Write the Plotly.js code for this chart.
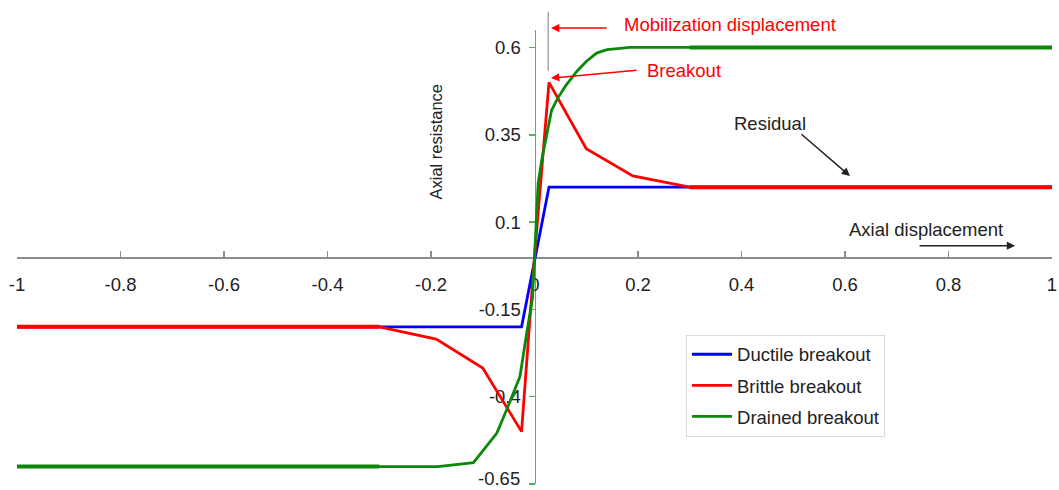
<!DOCTYPE html>
<html>
<head>
<meta charset="utf-8">
<script src="https://cdn.plot.ly/plotly-3.0.1.min.js"></script>
<style>
  html, body { margin: 0; padding: 0; background: #ffffff; }
  #chart { width: 1059px; height: 490px; }
</style>
</head>
<body>
<div id="chart"></div>
<script>
// ---- Data ----
const ductileX = [-1, -0.3, -0.025, 0.028, 0.3, 1];
const ductileY = [-0.2, -0.2, -0.2, 0.2, 0.2, 0.2];

const brittleX = [-1, -0.3, -0.19, -0.1, -0.025, 0, 0.028, 0.1, 0.19, 0.3, 1];
const brittleY = [-0.2, -0.2, -0.235, -0.318, -0.5, 0, 0.5, 0.31, 0.232, 0.2, 0.2];

const drainedX = [-1, -0.3, -0.187, -0.118, -0.073, -0.054, -0.028, -0.015, -0.004, 0,
                  0.007, 0.014, 0.024, 0.033, 0.045, 0.06, 0.082, 0.1, 0.12, 0.14, 0.185, 0.3, 1];
const drainedY = [-0.6, -0.6, -0.6, -0.589, -0.505, -0.438, -0.342, -0.217, -0.12, 0,
                  0.21, 0.278, 0.355, 0.42, 0.455, 0.49, 0.532, 0.56, 0.584, 0.594, 0.6, 0.6, 0.6];

const seriesNames = ["Ductile breakout", "Brittle breakout", "Drained breakout"];

const xTickVals = [-1, -0.8, -0.6, -0.4, -0.2, 0, 0.2, 0.4, 0.6, 0.8, 1];
const xTickText = ["-1", "-0.8", "-0.6", "-0.4", "-0.2", "0", "0.2", "0.4", "0.6", "0.8", "1"];
const yTickVals = [-0.65, -0.4, -0.15, 0.1, 0.35, 0.6];
const yTickText = ["-0.65", "-0.4", "-0.15", "0.1", "0.35", "0.6"];

// ---- Styling ----
const BLUE = "#0000ff", RED = "#ff0000", GREEN = "#0a880a";
const FONT = "Liberation Sans, Arial, sans-serif";
const FS = 18.5;

// outer (|x| >= 0.3) segments are drawn thicker in the reference
function outer(xs, ys) {
  const ox = [], oy = [];
  xs.forEach((x, i) => { if (x <= -0.3) { ox.push(x); oy.push(ys[i]); } });
  ox.push(null); oy.push(null);
  xs.forEach((x, i) => { if (x >= 0.3) { ox.push(x); oy.push(ys[i]); } });
  return [ox, oy];
}

const traces = [];
[[ductileX, ductileY, BLUE], [brittleX, brittleY, RED], [drainedX, drainedY, GREEN]].forEach((s, i) => {
  traces.push({
    x: s[0], y: s[1], type: "scatter", mode: "lines", name: seriesNames[i],
    legendgroup: "g" + i, line: { color: s[2], width: 2.8 }, hoverinfo: "skip"
  });
});
[[brittleX, brittleY, RED, 1], [drainedX, drainedY, GREEN, 2]].forEach(s => {
  const o = outer(s[0], s[1]);
  traces.push({
    x: o[0], y: o[1], type: "scatter", mode: "lines", showlegend: false,
    legendgroup: "g" + s[3], line: { color: s[2], width: 4 }, hoverinfo: "skip", connectgaps: false
  });
});

// the lowest y tick label sits at the very bottom edge; draw it as an annotation
// nudged just inside the page so it is not clipped
const yTickTextShown = yTickText.map((t, i) => (i === 0 ? "" : t));

const layout = {
  width: 1059, height: 490,
  margin: { l: 17, r: 7, t: 30, b: 6, pad: 0 },
  paper_bgcolor: "#ffffff", plot_bgcolor: "#ffffff",
  font: { family: FONT, size: FS, color: "#222" },
  showlegend: true,
  xaxis: {
    range: [-1, 1], anchor: "free", position: 0.5,
    showline: true, linecolor: "#8c8c8c", linewidth: 1.5,
    ticks: "inside", ticklen: 6, tickwidth: 1.5, tickcolor: "#8c8c8c",
    tickvals: xTickVals, ticktext: xTickText, ticklabelstandoff: 10,
    ticklabeloverflow: "allow",
    tickfont: { family: FONT, size: FS, color: "#222" },
    showgrid: false, zeroline: false, layer: "below traces", fixedrange: true
  },
  yaxis: {
    range: [-0.65, 0.65], anchor: "free", position: 0.5,
    showline: true, linecolor: "#55b555", linewidth: 1.5,
    ticks: "outside", ticklen: 6, tickwidth: 1.5, tickcolor: "#55b555",
    tickvals: yTickVals, ticktext: yTickTextShown, ticklabelstandoff: 4,
    ticklabeloverflow: "allow",
    tickfont: { family: FONT, size: FS, color: "#222" },
    showgrid: false, zeroline: false, layer: "below traces", fixedrange: true
  },
  legend: {
    x: 0.6464, y: 0.3288, xanchor: "left", yanchor: "top",
    bgcolor: "#ffffff", bordercolor: "#d9d9d9", borderwidth: 1,
    font: { family: FONT, size: FS, color: "#222" },
    traceorder: "grouped", tracegroupgap: 4, itemwidth: 40
  },
  shapes: [
    { type: "line", xref: "paper", yref: "paper", x0: 0.5133, x1: 0.5133, y0: 0.910, y1: 1.040,
      line: { color: "#a6a6a6", width: 1.5 } }
  ],
  annotations: [
    // lowest y tick label
    { xref: "paper", yref: "paper", x: 0.4874, y: -0.0132, text: yTickText[0],
      showarrow: false, xanchor: "right", yanchor: "bottom", borderpad: 0,
      font: { family: FONT, size: FS, color: "#222" } },
    // y-axis title
    { xref: "paper", yref: "paper", x: 0.4039, y: 0.7544, text: "Axial resistance",
      textangle: -90, showarrow: false, font: { family: FONT, size: 16.5, color: "#222" },
      xanchor: "center", yanchor: "middle" },
    // Mobilization displacement
    { xref: "paper", yref: "paper", x: 0.516, y: 1.0044, ax: 57, ay: 0, text: "",
      showarrow: true, arrowcolor: RED, arrowhead: 2, arrowsize: 1.1, arrowwidth: 1.5 },
    { xref: "paper", yref: "paper", x: 0.5843, y: 1.0115, text: "Mobilization displacement",
      showarrow: false, xanchor: "left", yanchor: "middle", font: { family: FONT, size: FS, color: RED } },
    // Breakout
    { xref: "paper", yref: "paper", x: 0.516, y: 0.894, ax: 87, ay: -8, text: "",
      showarrow: true, arrowcolor: RED, arrowhead: 2, arrowsize: 1.1, arrowwidth: 1.5 },
    { xref: "paper", yref: "paper", x: 0.6068, y: 0.9097, text: "Breakout",
      showarrow: false, xanchor: "left", yanchor: "middle", font: { family: FONT, size: FS, color: RED } },
    // Residual
    { xref: "paper", yref: "paper", x: 0.7275, y: 0.795, text: "Residual",
      showarrow: false, xanchor: "center", yanchor: "middle", font: { family: FONT, size: FS, color: "#222" } },
    { xref: "paper", yref: "paper", x: 0.8048, y: 0.6784, ax: -50, ay: -43, text: "",
      showarrow: true, arrowcolor: "#222", arrowhead: 2, arrowsize: 1.1, arrowwidth: 1.5 },
    // Axial displacement
    { xref: "paper", yref: "paper", x: 0.8778, y: 0.5595, text: "Axial displacement",
      showarrow: false, xanchor: "center", yanchor: "middle", font: { family: FONT, size: FS, color: "#222" } },
    { xref: "paper", yref: "paper", x: 0.9643, y: 0.5249, ax: -97, ay: 0, text: "",
      showarrow: true, arrowcolor: "#222", arrowhead: 2, arrowsize: 1.1, arrowwidth: 1.5 }
  ]
};

Plotly.newPlot("chart", traces, layout, { displayModeBar: false, staticPlot: true });
</script>
</body>
</html>
